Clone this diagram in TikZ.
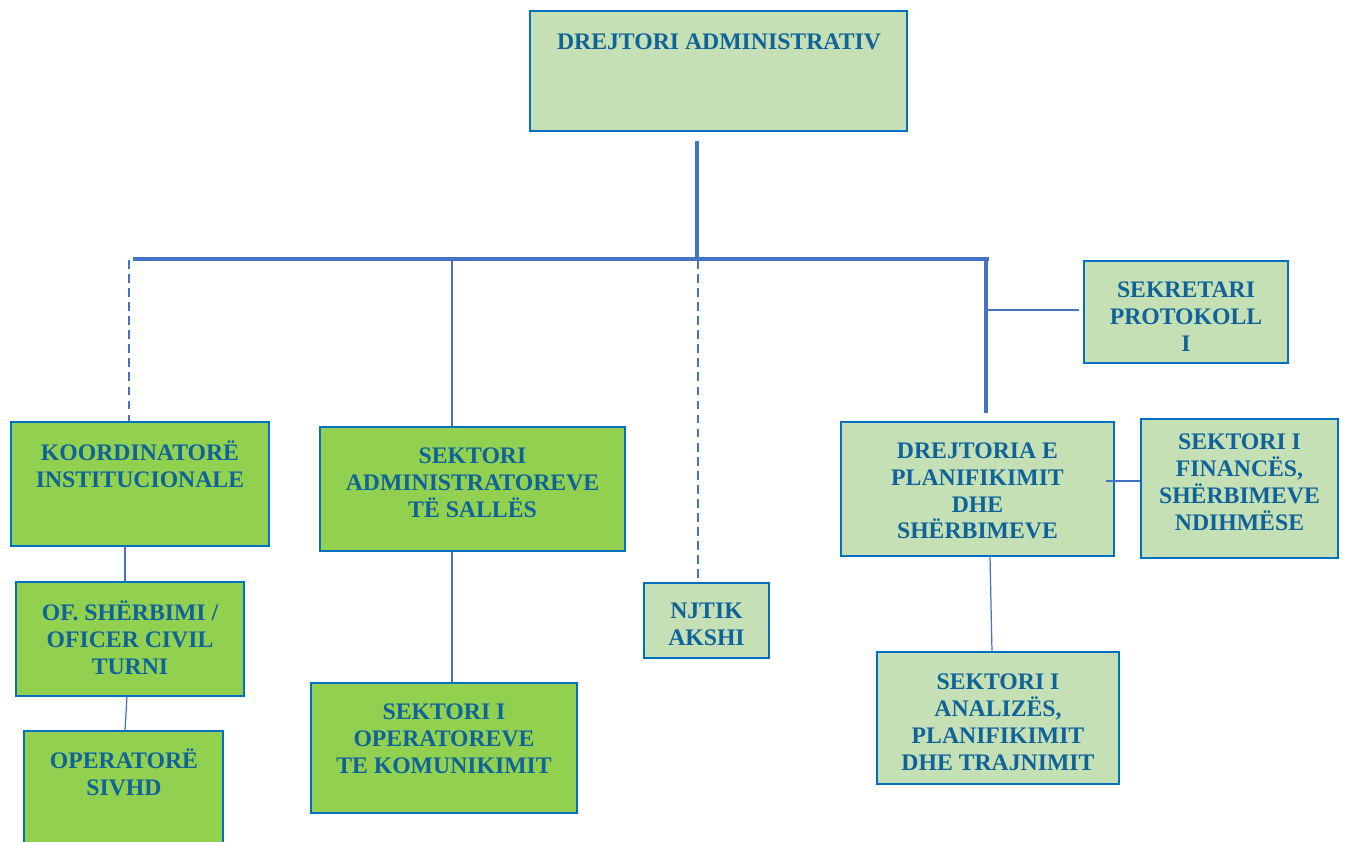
\documentclass[tikz,border=0pt]{standalone}
\usepackage{fontspec}
\setmainfont{Liberation Serif}
\usepackage{tikz}
\usetikzlibrary{positioning}

\definecolor{boxline}{HTML}{0070C0}
\definecolor{lightgreen}{HTML}{C5E0B4}
\definecolor{brightgreen}{HTML}{92D050}
\definecolor{linkblue}{HTML}{4472C4}
\definecolor{textblue}{HTML}{10639A}

\begin{document}
\begin{tikzpicture}[x=0.02cm,y=-0.02cm,
	box/.style = {draw=boxline,line width=1.3pt,rectangle,inner sep=0pt},
	pale/.style = {box,fill=lightgreen},
	bright/.style = {box,fill=brightgreen},
	lbl/.style = {text=textblue,align=center,inner sep=0pt,font=\bfseries\fontsize{13.5}{15.3}\selectfont},
	bus/.style = {linkblue,line width=2.2pt},
	midlink/.style = {linkblue,line width=1.4pt},
	thinlink/.style = {linkblue,line width=0.7pt},
	dashlink/.style = {linkblue,line width=1.7pt,dash pattern=on 5pt off 3pt}
	]
	\useasboundingbox (0,0) rectangle (1347,842);
	%BOX IN CIMA
	\node[pale,minimum width=7.54cm,minimum height=2.4cm] (dir) at (718.5,71) {};
	\node[lbl] (dir-t) at (719,42) {DREJTORI ADMINISTRATIV};
	%COLONNA SINISTRA
	\node[bright,minimum width=5.16cm,minimum height=2.48cm] (koord) at (140,484) {};
	\node[lbl] (koord-t) at (140,464) {KOORDINATORË\\INSTITUCIONALE};
	\node[bright,minimum width=4.56cm,minimum height=2.28cm] (ofsh) at (130,639) {};
	\node[lbl] (ofsh-t) at (130,638) {OF. SHËRBIMI /\\OFICER CIVIL\\TURNI};
	\node[bright,minimum width=3.98cm,minimum height=2.58cm] (oper) at (123.5,795.5) {};
	\node[lbl] (oper-t) at (124,772) {OPERATORË\\SIVHD};
	%SEKTORI ADMINISTRATOREVE
	\node[bright,minimum width=6.1cm,minimum height=2.48cm] (sadm) at (472.5,489) {};
	\node[lbl] (sadm-t) at (472.5,483) {SEKTORI\\ADMINISTRATOREVE\\TË SALLËS};
	\node[bright,minimum width=5.32cm,minimum height=2.6cm] (sope) at (444,748) {};
	\node[lbl] (sope-t) at (444,739) {SEKTORI I\\OPERATOREVE\\TE KOMUNIKIMIT};
	%NJTIK
	\node[pale,minimum width=2.5cm,minimum height=1.5cm] (njtik) at (706.5,620.5) {};
	\node[lbl] (njtik-t) at (706.5,624) {NJTIK\\AKSHI};
	%COLONNA DESTRA
	\node[pale,minimum width=4.08cm,minimum height=2.04cm] (sekr) at (1186,312) {};
	\node[lbl] (sekr-t) at (1186,317) {SEKRETARI\\PROTOKOLL\\I};
	\node[pale,minimum width=5.46cm,minimum height=2.68cm] (drej) at (977.5,489) {};
	\node[lbl] (drej-t) at (977.5,491) {DREJTORIA E\\PLANIFIKIMIT\\DHE\\SHËRBIMEVE};
	\node[pale,minimum width=3.94cm,minimum height=2.78cm] (fin) at (1239.5,488.5) {};
	\node[lbl] (fin-t) at (1239.5,482) {SEKTORI I\\FINANCËS,\\SHËRBIMEVE\\NDIHMËSE};
	\node[pale,minimum width=4.84cm,minimum height=2.64cm] (anal) at (998,718) {};
	\node[lbl] (anal-t) at (998,722) {SEKTORI I\\ANALIZËS,\\PLANIFIKIMIT\\DHE TRAJNIMIT};
	%PUNTI DI APPOGGIO
	\coordinate (stem) at (697,141);
	\coordinate (busL) at (133,259);
	\coordinate (busR) at (989,259);
	\coordinate (kd) at (129,260);
	\coordinate (sa) at (452,260);
	\coordinate (nj) at (698,260);
	\coordinate (dv) at (986,260);
	\coordinate (dvend) at (986,413);
	\coordinate (sb) at (988,310);
	\coordinate (kc) at (125,546);
	\coordinate (oc) at (127,696);
	\coordinate (oe) at (125,731);
	\coordinate (fl) at (1106,481);
	\coordinate (ds) at (990,556);
	\coordinate (as) at (992,652);
	%COLLEGAMENTI
	\draw[bus] (stem) -- (stem |- busL);
	\draw[bus] (busL) -- (busR);
	\draw[dashlink] (kd) -- (kd |- koord.north);
	\draw[thinlink] (sa) -- (sa |- sadm.north);
	\draw[dashlink] (nj) -- (nj |- njtik.north);
	\draw[bus] (dv) -- (dvend);
	\draw[midlink] (sb) -- ([xshift=-0.08cm]sb -| sekr.west);
	\draw[midlink] (kc) -- (kc |- ofsh.north);
	\draw[thinlink] (oc) -- (oe);
	\draw[thinlink] (sa |- sadm.south) -- (sa |- sope.north);
	\draw[thinlink] (fl) -- (fl -| fin.west);
	\draw[thinlink] (ds) -- (as);
\end{tikzpicture}
\end{document}
